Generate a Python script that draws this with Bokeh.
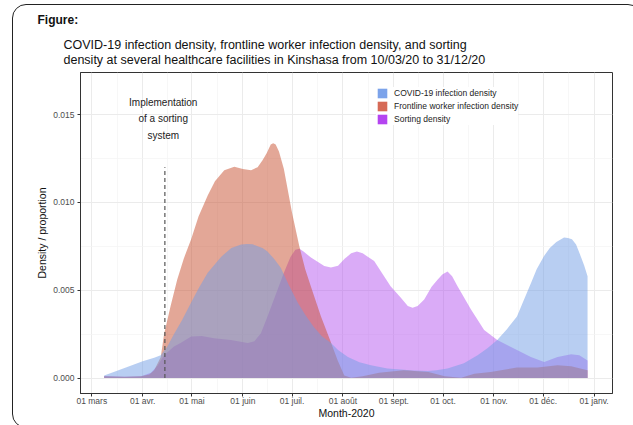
from bokeh.plotting import figure
from bokeh.models import (Range1d, FixedTicker, Legend, LegendItem, Title, InlineStyleSheet)
from bokeh.core.properties import value
from bokeh.embed import file_html
from bokeh.resources import INLINE

FONT = "Liberation Sans"

# Days counted from 01 March 2020
month_days = [0, 31, 61, 92, 122, 153, 184, 214, 245, 275, 306]
month_labels = ["01 mars", "01 avr.", "01 mai", "01 juin", "01 juil.", "01 août",
                "01 sept.", "01 oct.", "01 nov.", "01 déc.", "01 janv."]

# COVID-19 infection density
covid_day = [7.5, 15, 22, 31, 38, 42, 46, 50, 55, 60.5, 65, 70.6, 78.7, 85, 88, 91,
             94.5, 98, 101, 104, 107, 111, 115, 120, 125.4, 130, 135, 140, 145.7,
             150, 156, 163, 170, 180, 188, 196, 204.6, 210, 216.7, 226.7, 235, 241,
             247, 253, 259, 263, 267.5, 271, 275.5, 279, 283, 287.7, 290, 292.5,
             295, 298, 300, 302]
covid_val = [0.00015, 0.0004, 0.00065, 0.00095, 0.00115, 0.0013, 0.0018, 0.0025,
             0.0033, 0.0043, 0.0051, 0.0060, 0.0069, 0.0074, 0.0075, 0.0076,
             0.00763, 0.00762, 0.0075, 0.0074, 0.0072, 0.0068, 0.0063, 0.0053,
             0.0043, 0.0036, 0.00293, 0.0024, 0.0020, 0.0016, 0.0012, 0.0009,
             0.00073, 0.00055, 0.00048, 0.00043, 0.0004, 0.00045, 0.00054, 0.00084,
             0.0013, 0.0017, 0.00217, 0.0028, 0.0035, 0.0044, 0.0054, 0.0062,
             0.00695, 0.0074, 0.00775, 0.0080, 0.00798, 0.0079, 0.0076, 0.0069,
             0.0064, 0.0058]

# Frontline worker infection density
front_day = [7.5, 20, 30, 35, 38, 42, 44, 48, 52, 56, 60.5, 65, 70.6, 75, 80.7, 86.8,
             92, 97, 101, 104, 106.5, 109, 110.5, 112, 114, 117, 122, 126.4, 130,
             133.5, 139.6, 144.7, 149.8, 153.8, 158, 165, 175, 190, 205, 215, 225,
             233, 243, 259, 271.5, 283.7, 292, 302]
front_val = [0.0001, 0.00008, 0.0001, 0.0002, 0.00045, 0.0012, 0.0025, 0.0041,
             0.0056, 0.0068, 0.0079, 0.0092, 0.0104, 0.0112, 0.01184, 0.01203,
             0.0119, 0.01184, 0.0120, 0.0124, 0.0128, 0.0133, 0.01337, 0.0133,
             0.0129, 0.0119, 0.0094, 0.0075, 0.0062, 0.0052, 0.0035, 0.00226,
             0.0010, 0.00015, 0.00002, 0.0001, 0.0003, 0.00045, 0.00035, 0.0001,
             0.00002, 0.00025, 0.00035, 0.0006, 0.0006, 0.00073, 0.00067, 0.00044]

# Sorting density
sort_day = [7.5, 20, 30, 36, 40, 44, 50, 54, 60.5, 67, 74.6, 84.8, 95, 99, 103, 107,
            111, 117, 121, 124, 126.5, 129, 133.5, 141.6, 145.7, 150, 154, 158,
            161.5, 165, 172, 182, 188, 192.5, 195.4, 198.5, 202.5, 207, 210.6,
            213.5, 216.7, 219.5, 222.8, 231, 239, 247, 259, 267.5, 275.6, 283.7,
            292, 297, 302]
sort_val = [0.00012, 0.00008, 0.0001, 0.0003, 0.0007, 0.0013, 0.0018, 0.0020,
            0.00236, 0.0024, 0.00226, 0.00217, 0.0020, 0.0021, 0.00255, 0.0035,
            0.0045, 0.0060, 0.0069, 0.0073, 0.00736, 0.0072, 0.00686, 0.00638,
            0.00629, 0.0064, 0.0068, 0.0071, 0.0072, 0.0071, 0.00667, 0.00523,
            0.0046, 0.0041, 0.0040, 0.0041, 0.00447, 0.0052, 0.0056, 0.0059,
            0.00607, 0.0058, 0.00523, 0.0039, 0.00274, 0.00217, 0.0016, 0.0012,
            0.00092, 0.0012, 0.00136, 0.0013, 0.0010]

sorting_start_day = 44.5
sorting_line_top = 0.012
y_ticks = [0.0, 0.005, 0.010, 0.015]
y_tick_labels = ["0.000", "0.005", "0.010", "0.015"]

# Frame placement on the canvas (pixels)
FL, FR, FT, FB = 80, 612, 72, 393

p = figure(width=633, height=425, output_backend="svg", toolbar_location=None,
           x_range=Range1d(-6.9, 317.2), y_range=Range1d(-0.00088, 0.0174),
           min_border_left=FL, min_border_right=633 - FR, min_border_top=FT,
           min_border_bottom=425 - FB)
p.background_fill_color = "white"
p.border_fill_color = "white"
p.outline_line_color = "#333333"
p.outline_line_width = 1

# Headings above the panel (entries added later sit closer to the panel)
p.title = Title(text="Figure:", align="left", offset=-43, standoff=8,
                text_font=FONT, text_font_size="12px", text_font_style="bold",
                text_color="#111111")
p.add_layout(Title(text="COVID-19 infection density, frontline worker infection density, and sorting\n"
                        "density at several healthcare facilities in Kinshasa from 10/03/20 to 31/12/20",
                   align="left", offset=-17, standoff=10, text_font=FONT,
                   text_font_size="12.5px", text_font_style="normal",
                   text_color="#111111", text_line_height=1.12), "above")

# Axes
minor_x = [(a + b) / 2 for a, b in zip(month_days[:-1], month_days[1:])]
p.xaxis.ticker = FixedTicker(ticks=month_days, minor_ticks=minor_x)
p.xaxis.major_label_overrides = {d: l for d, l in zip(month_days, month_labels)}
p.yaxis.ticker = FixedTicker(ticks=y_ticks, minor_ticks=[0.0025, 0.0075, 0.0125])
p.yaxis.major_label_overrides = {t: l for t, l in zip(y_ticks, y_tick_labels)}
for ax in (p.xaxis, p.yaxis):
    ax.axis_line_color = "#333333"
    ax.major_tick_line_color = "#333333"
    ax.major_tick_out = 3
    ax.major_tick_in = 0
    ax.minor_tick_line_color = None
    ax.major_label_text_font = FONT
    ax.major_label_text_font_size = "8.5px"
    ax.major_label_text_color = "#4d4d4d"
    ax.major_label_text_line_height = 1.0
    ax.axis_label_text_font = FONT
    ax.axis_label_text_font_size = "10.5px"
    ax.axis_label_text_font_style = "normal"
    ax.axis_label_text_color = "#111111"
    ax.axis_label_text_line_height = 1.0
p.xaxis.axis_label = "Month-2020"
p.yaxis.axis_label = "Density / proportion"
p.xaxis.major_label_standoff = -2
p.xaxis.axis_label_standoff = -2
p.yaxis.major_label_standoff = 2
p.yaxis.axis_label_standoff = 2

for g in (p.xgrid, p.ygrid):
    g.grid_line_color = "#EBEBEB"
    g.grid_line_width = 1
    g.minor_grid_line_color = "#F3F3F3"
    g.minor_grid_line_width = 0.7

# Density areas: sorting at the bottom, then frontline, COVID-19 on top
p.varea(x=sort_day, y1=0, y2=sort_val, fill_color="#AD45ED", fill_alpha=0.45)
p.varea(x=front_day, y1=0, y2=front_val, fill_color="#C8502F", fill_alpha=0.5)
p.varea(x=covid_day, y1=0, y2=covid_val, fill_color="#719DE5", fill_alpha=0.5)

# Start of the sorting system
p.segment(x0=[sorting_start_day], y0=[0], x1=[sorting_start_day], y1=[sorting_line_top],
          line_color="#555555", line_width=1.2, line_dash="4 3")
p.text(x=[43.5], y=[0.01478], text=["Implementation\nof a sorting\nsystem"],
       text_align="center", text_baseline="middle", text_font=value(FONT),
       text_font_size="10px", text_color="#222222", text_line_height=1.5)

# Legend keys in solid colours (flat areas, nothing drawn in the plot)
k1 = p.varea(x=covid_day, y1=0, y2=0, fill_color="#7CA3EA")
k2 = p.varea(x=front_day, y1=0, y2=0, fill_color="#D66A56")
k3 = p.varea(x=sort_day, y1=0, y2=0, fill_color="#B444F0")
legend = Legend(items=[LegendItem(label="COVID-19 infection density", renderers=[k1]),
                       LegendItem(label="Frontline worker infection density", renderers=[k2]),
                       LegendItem(label="Sorting density", renderers=[k3])],
                location=(296, 268), glyph_width=12, glyph_height=12, spacing=1,
                label_standoff=6, padding=4, margin=0, border_line_color=None,
                background_fill_color="white", background_fill_alpha=1,
                label_text_font=FONT, label_text_font_size="8.5px",
                label_text_color="#222222", label_height=12)
p.add_layout(legend, "center")

# Rounded page frame around the figure
p.stylesheets = [InlineStyleSheet(css="""
:host { position: relative; overflow: hidden; }
:host::after {
  content: ""; position: absolute; left: 12px; top: 4px;
  width: 630px; height: 424px; box-sizing: border-box;
  border: 1.3px solid #222222; border-radius: 14px; pointer-events: none;
}
""")]

open("out.html", "w").write(file_html(p, INLINE))
